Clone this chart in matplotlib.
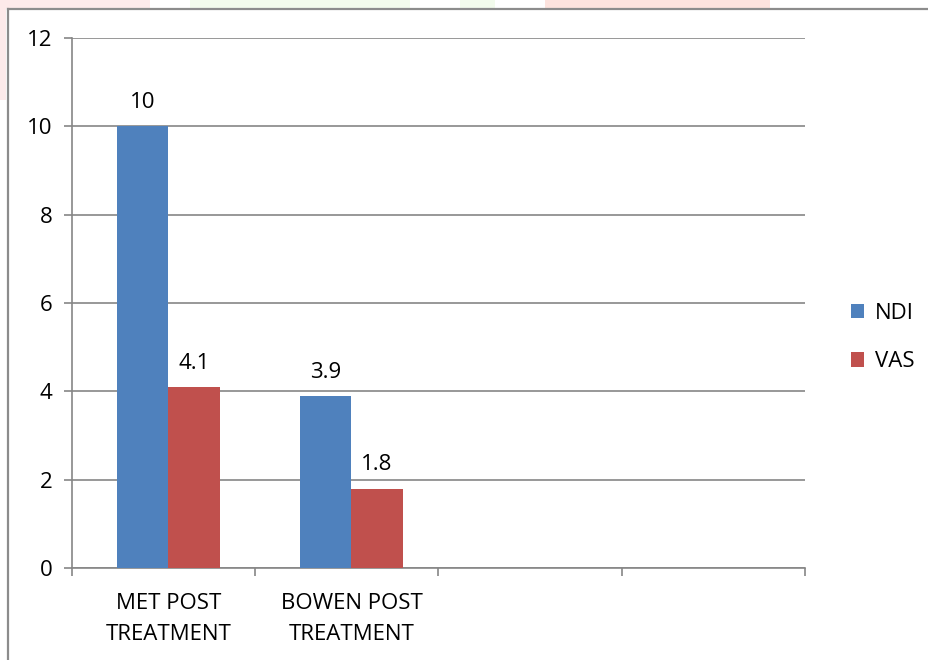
import matplotlib.pyplot as plt
from matplotlib.patches import Rectangle

categories = ['MET POST\nTREATMENT', 'BOWEN POST\nTREATMENT', '', '']
ndi = [10, 3.9]
vas = [4.1, 1.8]
ndi_labels = ['10', '3.9']
vas_labels = ['4.1', '1.8']

blue = '#4F81BD'
red = '#C0504D'
grid_grey = '#868686'
fs = 16

plt.rcParams['font.family'] = ['Open Sans', 'DejaVu Sans']

fig = plt.figure(figsize=(9.29, 6.6), dpi=100)
ax = fig.add_axes([72 / 929, 1 - 568 / 660, 733 / 929, 530 / 660])

# faint header strip above the chart frame
for x0, x1, c in [(0, 150, '#fdeaea'), (190, 410, '#f2fbec'), (460, 495, '#f2fbec'),
                  (545, 770, '#fde3de')]:
    fig.patches.append(Rectangle((x0 / 929, 1 - 8 / 660), (x1 - x0) / 929, 8 / 660,
                                 transform=fig.transFigure, color=c, lw=0, zorder=0))
fig.patches.append(Rectangle((0, 1 - 100 / 660), 6 / 929, 100 / 660,
                             transform=fig.transFigure, color='#fdeaea', lw=0, zorder=0))

# chart frame
fig.add_artist(plt.Line2D([8 / 929, 1], [1 - 9 / 660, 1 - 9 / 660],
                          transform=fig.transFigure, color='#8c8c8c', lw=1.6))
fig.add_artist(plt.Line2D([8 / 929, 8 / 929], [0, 1 - 9 / 660],
                          transform=fig.transFigure, color='#8c8c8c', lw=1.6))

width = 0.28
shift = 0.025
pos_ndi = [i - width / 2 + shift for i in range(len(ndi))]
pos_vas = [i + width / 2 + shift for i in range(len(vas))]
b1 = ax.bar(pos_ndi, ndi, width, color=blue, label='NDI', zorder=3)
b2 = ax.bar(pos_vas, vas, width, color=red, label='VAS', zorder=3)

for bars, labels in [(b1, ndi_labels), (b2, vas_labels)]:
    for bar, lab in zip(bars, labels):
        ax.annotate(lab, (bar.get_x() + bar.get_width() / 2, bar.get_height()),
                    xytext=(0, 9.5), textcoords='offset points',
                    ha='center', va='bottom', fontsize=fs)

ax.set_xlim(-0.5, 3.5)
ax.set_ylim(0, 12)
ax.set_yticks(range(0, 13, 2))
ax.set_yticklabels([str(v) for v in range(0, 13, 2)], fontsize=fs)
ax.yaxis.grid(True, color=grid_grey, lw=1.2, zorder=0)
ax.set_axisbelow(True)

# category boundaries as tick marks, names centred under each bar pair
ax.set_xticks([-0.5, 0.5, 1.5, 2.5, 3.5])
ax.set_xticklabels([])
ax.set_xticks([i + shift for i in range(4)], minor=True)
ax.set_xticklabels(categories, minor=True, fontsize=fs, linespacing=1.65)
ax.tick_params(axis='x', which='minor', length=0, pad=18)
ax.tick_params(axis='x', which='major', length=6, color=grid_grey, width=1.2)
ax.tick_params(axis='y', length=6, color=grid_grey, width=1.2, pad=8)

for side in ['top', 'right']:
    ax.spines[side].set_visible(False)
for side in ['left', 'bottom']:
    ax.spines[side].set_color(grid_grey)
    ax.spines[side].set_linewidth(1.2)

ax.legend(loc='center left', bbox_to_anchor=(1.035, 0.435), frameon=False,
          fontsize=fs, handlelength=0.6, handleheight=0.6, labelspacing=1.25,
          handletextpad=0.5)

fig.savefig('out.png', dpi=100)
